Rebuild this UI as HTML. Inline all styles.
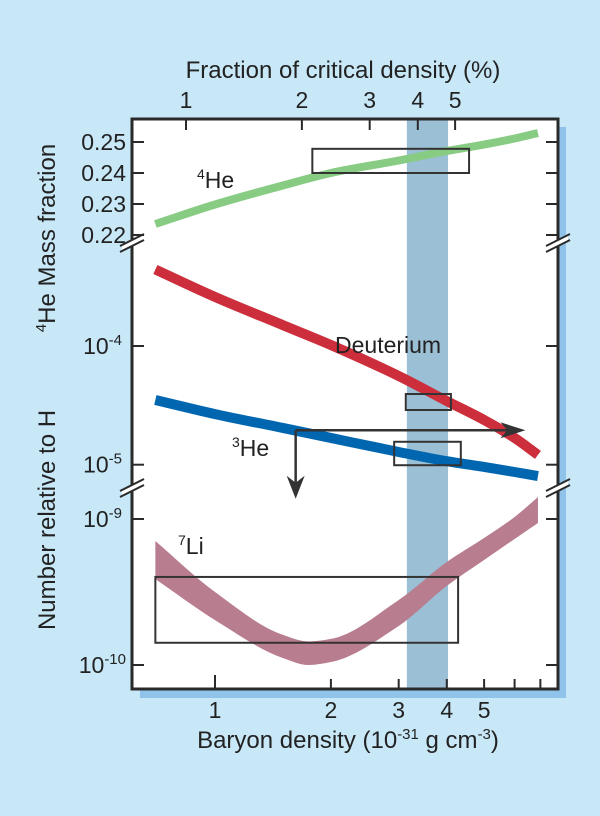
<!DOCTYPE html>
<html><head><meta charset="utf-8"><style>
html,body{margin:0;padding:0;background:#c8e8f8;}
svg{display:block;font-family:"Liberation Sans",Arial,sans-serif;}
</style></head><body>
<svg id="chart" width="600" height="816" viewBox="0 0 600 816" xmlns="http://www.w3.org/2000/svg">
<rect x="0" y="0" width="600" height="816" fill="#c8e8f8"/>
<rect x="140" y="127" width="426" height="571" fill="#8fc3ea"/>
<rect x="132" y="119" width="426" height="570" fill="#ffffff"/>
<g id="marks"></g>
<text x="343" y="78" font-size="24" text-anchor="middle" fill="#222">Fraction of critical density (%)</text>
<text x="348" y="748" font-size="24" text-anchor="middle" fill="#222">Baryon density (10<tspan font-size="15" dy="-9">-31</tspan><tspan dy="9"> g cm</tspan><tspan font-size="15" dy="-9">-3</tspan><tspan dy="9">)</tspan></text>
<text transform="translate(55,238) rotate(-90)" font-size="24" text-anchor="middle" fill="#222"><tspan font-size="15" dy="-9">4</tspan><tspan dy="9">He Mass fraction</tspan></text>
<text transform="translate(55,520) rotate(-90)" font-size="24" text-anchor="middle" fill="#222">Number relative to H</text>
<text x="197" y="188" font-size="23" fill="#222"><tspan font-size="14" dy="-9">4</tspan><tspan dy="9">He</tspan></text>
<text x="335" y="353" font-size="23" fill="#222">Deuterium</text>
<text x="232" y="456" font-size="23" fill="#222"><tspan font-size="14" dy="-9">3</tspan><tspan dy="9">He</tspan></text>
<text x="178" y="554" font-size="23" fill="#222"><tspan font-size="14" dy="-9">7</tspan><tspan dy="9">Li</tspan></text>
</svg>
<script>
// ---- data ----
const densities = [0.7, 1, 1.5, 2, 3, 4, 5, 6, 6.9];
const he4Values = [0.22355, 0.22984, 0.23597, 0.2400, 0.24403, 0.2471, 0.24919, 0.25113, 0.2529];
const deuteriumValues = [4.41e-4, 2.59e-4, 1.50e-4, 1.02e-4, 5.59e-5, 3.44e-5, 2.38e-5, 1.68e-5, 1.21e-5];
const he3Values = [3.51e-5, 2.67e-5, 2.04e-5, 1.68e-5, 1.28e-5, 1.07e-5, 9.57e-6, 8.68e-6, 8.03e-6];
const liDensities = [0.7, 1, 1.5, 1.75, 2, 3, 4, 5, 6, 6.9];
const li7Upper = [7.07e-10, 3.16e-10, 1.61e-10, 1.45e-10, 1.51e-10, 2.79e-10, 5.08e-10, 7.41e-10, 1.032e-9, 1.415e-9];
const li7Lower = [3.88e-10, 2.03e-10, 1.117e-10, 1.0e-10, 1.048e-10, 1.85e-10, 3.48e-10, 5.24e-10, 7.3e-10, 9.39e-10];
const bottomTicks = [1, 2, 3, 4, 5, 6, 7];
const bottomTickLabels = ["1", "2", "3", "4", "5", "", ""];
const topTicks = [1, 2, 3, 4, 5];
const topTickLabels = ["1", "2", "3", "4", "5"];
const he4Ticks = [0.25, 0.24, 0.23, 0.22];
const he4TickLabels = ["0.25", "0.24", "0.23", "0.22"];
const midTicks = [-4, -5];
const liTicks = [-9, -10];
const bandRange = [3.15, 4.03];
const he4Box = [1.79, 4.57, 0.24, 0.2478];
const dBox = [3.13, 4.1, 2.89e-5, 3.94e-5];
const he3Box = [2.92, 4.35, 9.9e-6, 1.56e-5];
const liBox = [0.70, 4.28, 1.42e-10, 4.01e-10];
const arrowOrigin = [1.62, 1.95e-5];
const arrowEndX = 6.4;
const arrowEndY = 1e-5;

// ---- scales ----
const X = v => 215 + 385 * Math.log10(v);
const XT = f => 186 + 385 * Math.log10(f);
const YHe = v => 142 + (0.25 - v) * 3100;
const YMid = v => 346 - 118.7 * (Math.log10(v) + 4);
const YLi = v => 519 - 146 * (Math.log10(v) + 9);
const YMidExp = e => 346 - 118.7 * (e + 4);
const YLiExp = e => 519 - 146 * (e + 9);

const NS = "http://www.w3.org/2000/svg";
const marks = document.getElementById('marks');
function mk(tag, attrs, parent) {
  const e = document.createElementNS(NS, tag);
  for (const k in attrs) e.setAttribute(k, attrs[k]);
  (parent || marks).appendChild(e);
  return e;
}
function monoSegs(pts) {
  const n = pts.length, dx = [], s = [], m = [];
  for (let i = 0; i < n - 1; i++) { dx[i] = pts[i + 1][0] - pts[i][0]; s[i] = (pts[i + 1][1] - pts[i][1]) / dx[i]; }
  m[0] = s[0]; m[n - 1] = s[n - 2];
  for (let i = 1; i < n - 1; i++) {
    if (s[i - 1] * s[i] <= 0) m[i] = 0;
    else { const w1 = 2 * dx[i] + dx[i - 1], w2 = dx[i] + 2 * dx[i - 1]; m[i] = (w1 + w2) / (w1 / s[i - 1] + w2 / s[i]); }
  }
  const segs = [];
  for (let i = 0; i < n - 1; i++) {
    const h = dx[i] / 3;
    segs.push([pts[i], [pts[i][0] + h, pts[i][1] + m[i] * h], [pts[i + 1][0] - h, pts[i + 1][1] - m[i + 1] * h], pts[i + 1]]);
  }
  return segs;
}
function monoPath(pts) {
  let d = `M${pts[0][0]},${pts[0][1]}`;
  monoSegs(pts).forEach(g => { d += ` C${g[1][0]},${g[1][1]} ${g[2][0]},${g[2][1]} ${g[3][0]},${g[3][1]}`; });
  return d;
}
function monoPathReverse(pts) {
  let d = '';
  monoSegs(pts).reverse().forEach(g => { d += ` C${g[2][0]},${g[2][1]} ${g[1][0]},${g[1][1]} ${g[0][0]},${g[0][1]}`; });
  return d;
}

// band
const band = mk('rect', {x: X(bandRange[0]), y: 119, width: X(bandRange[1]) - X(bandRange[0]), height: 570, fill: '#9bbfd4'});



// li band
const up = liDensities.map((d, i) => [X(d), YLi(li7Upper[i])]);
const lo = liDensities.map((d, i) => [X(d), YLi(li7Lower[i])]);
const last = lo[lo.length - 1];
const liPath = mk('path', {d: monoPath(up) + ` L${last[0]},${last[1]}` + monoPathReverse(lo) + ' Z', fill: '#b87d8f'});



// curves
const he4Line = mk('path', {d: monoPath(densities.map((d, i) => [X(d), YHe(he4Values[i])])), fill: 'none', stroke: '#88cc84', 'stroke-width': 8});


const dLine = mk('path', {d: monoPath(densities.map((d, i) => [X(d), YMid(deuteriumValues[i])])), fill: 'none', stroke: '#cc2e3c', 'stroke-width': 10});


const he3Line = mk('path', {d: monoPath(densities.map((d, i) => [X(d), YMid(he3Values[i])])), fill: 'none', stroke: '#0066b0', 'stroke-width': 10});



// boxes
function box(b, ys, name) {
  const x1 = X(b[0]), x2 = X(b[1]), y1 = ys(b[3]), y2 = ys(b[2]);
  const r = mk('rect', {x: x1, y: y1, width: x2 - x1, height: y2 - y1, fill: 'none', stroke: '#333', 'stroke-width': 2});
  
  
}
box(he4Box, YHe, 'he4-observed-box');
box(dBox, YMid, 'deuterium-observed-box');
box(he3Box, YMid, 'he3-observed-box');
box(liBox, YLi, 'li7-observed-box');

// arrows
const ax = X(arrowOrigin[0]), ay = YMid(arrowOrigin[1]);
const hx = X(arrowEndX), vy = YMid(arrowEndY) + 34;
const arrH = mk('path', {d: `M${ax},${ay} L${hx - 18},${ay}`, stroke: '#333', 'stroke-width': 2.5, fill: 'none'});


const headH = mk('path', {d: `M${hx},${ay} L${hx - 25},${ay - 8} L${hx - 18},${ay} L${hx - 25},${ay + 8} Z`, fill: '#333'});


const arrV = mk('path', {d: `M${ax},${ay} L${ax},${vy - 16}`, stroke: '#333', 'stroke-width': 2.5, fill: 'none'});


const headV = mk('path', {d: `M${ax},${vy} L${ax - 9},${vy - 23} L${ax},${vy - 16} L${ax + 9},${vy - 23} Z`, fill: '#333'});



// frame
const frame = mk('rect', {x: 132, y: 119, width: 426, height: 570, fill: 'none', stroke: '#2a2a2a', 'stroke-width': 3});



// ticks
function line(x1, y1, x2, y2, name) {
  const l = mk('line', {x1, y1, x2, y2, stroke: '#2a2a2a', 'stroke-width': 2});
  
  
}
function label(x, y, txt, anchor, name, sup) {
  const t = mk('text', {x, y, 'font-size': 23, 'text-anchor': anchor, fill: '#222'});
  
  
  if (sup) {
    t.innerHTML = txt + '<tspan font-size="15" dy="-9">' + sup + '</tspan>';
  } else t.textContent = txt;
}
bottomTicks.forEach((v, i) => {
  line(X(v), 689, X(v), v === 1 ? 675 : 679, 'bottom-tick');
  if (bottomTickLabels[i]) label(X(v), 718, bottomTickLabels[i], 'middle', 'bottom-tick-label');
});
topTicks.forEach((v, i) => {
  line(XT(v), 119, XT(v), 130, 'top-tick');
  label(XT(v), 108, topTickLabels[i], 'middle', 'top-tick-label');
});
he4Ticks.forEach((v, i) => {
  line(132, YHe(v), 144, YHe(v), 'left-tick');
  line(558, YHe(v), 546, YHe(v), 'right-tick');
  label(126, YHe(v) + 8, he4TickLabels[i], 'end', 'he4-tick-label');
});
midTicks.forEach(e => {
  line(132, YMidExp(e), 144, YMidExp(e), 'left-tick');
  line(558, YMidExp(e), 546, YMidExp(e), 'right-tick');
  label(122, YMidExp(e) + 8, '10', 'end', 'number-tick-label', String(e));
});
liTicks.forEach(e => {
  line(132, YLiExp(e), 144, YLiExp(e), 'left-tick');
  line(558, YLiExp(e), 546, YLiExp(e), 'right-tick');
  label(e === -10 ? 126 : 122, YLiExp(e) + 8, '10', 'end', 'li-tick-label', String(e));
});

// axis breaks
[243, 488].forEach(y => {
  [132, 558].forEach(x => {
    const g = mk('g', {});
    
    
    mk('polygon', {points: `${x - 10},${y + 2} ${x + 10},${y - 8} ${x + 10},${y - 2} ${x - 10},${y + 8}`, fill: '#ffffff'}, g);
    mk('line', {x1: x - 12, y1: y + 3, x2: x + 12, y2: y - 9, stroke: '#2a2a2a', 'stroke-width': 2}, g);
    mk('line', {x1: x - 12, y1: y + 9, x2: x + 12, y2: y - 3, stroke: '#2a2a2a', 'stroke-width': 2}, g);
  });
});
</script>
</body></html>
